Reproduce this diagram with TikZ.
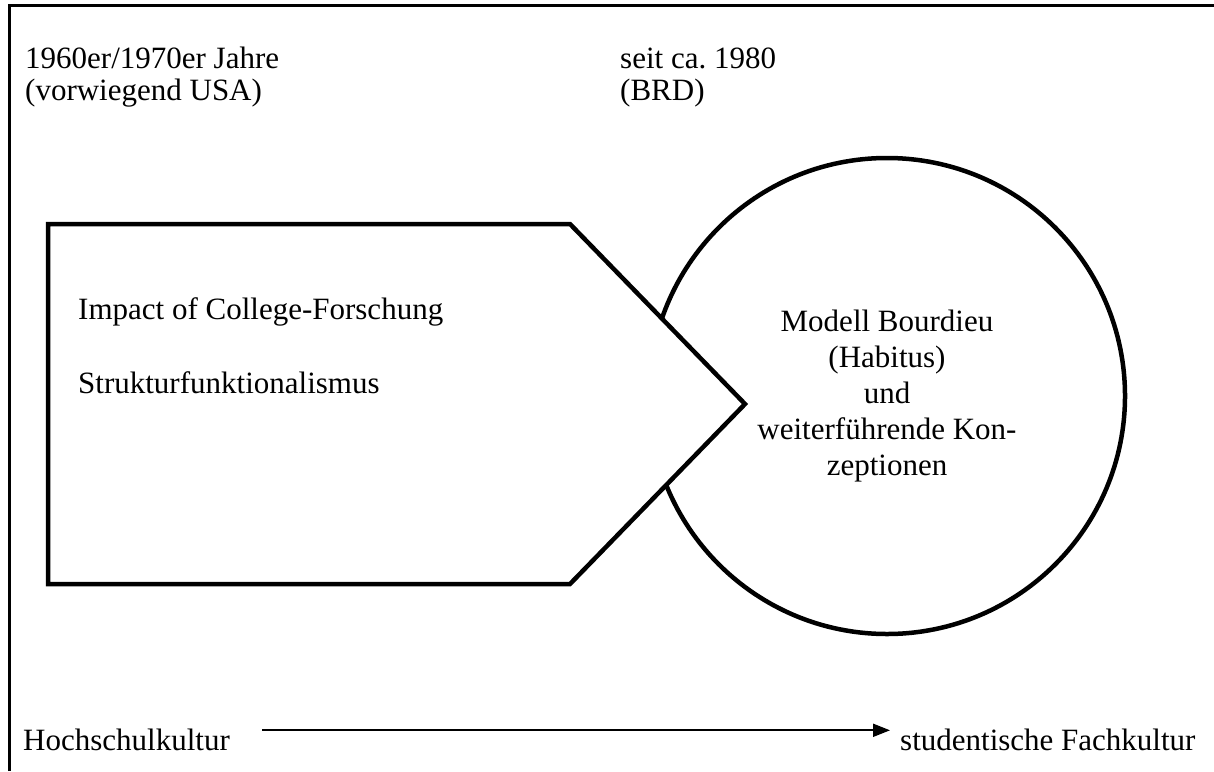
\documentclass[tikz,border=0pt]{standalone}
\usepackage{fontspec}
\setmainfont{Liberation Serif}
\usetikzlibrary{arrows.meta}
\begin{document}
\frenchspacing
\begin{tikzpicture}[x=1pt,y=-1pt,
  txt/.style={inner sep=0pt,anchor=base west,font=\fontsize{31}{36}\selectfont},
  frameline/.style={line width=3pt},
  shapeline/.style={line width=4.5pt,line join=miter},
  arrowline/.style={line width=2pt,-{Triangle[length=17pt,width=13pt]}}]
\useasboundingbox (0,0) rectangle (1214,771);

% open frame: left and top edges only
\draw[frameline] (9,771) -- (9,5) -- (1214,5);

% period headings
\node[txt] (eraA) at (25,68) {1960er/1970er Jahre};
\node[txt] (eraAsub) at (25,100) {(vorwiegend USA)};
\node[txt] (eraB) at (620,68) {seit ca.\ 1980};
\node[txt] (eraBsub) at (620,100) {(BRD)};

% circle with the Bourdieu model
\node[circle,draw,shapeline,minimum size=476pt,inner sep=0pt,align=center,
      font=\fontsize{31}{36}\selectfont] (bourdieu) at (887,396)
  {Modell Bourdieu\\(Habitus)\\und\\weiterführende Kon-\\zeptionen};

% arrow-shaped block pushing into the circle
\draw[shapeline,fill=white] (48,224) -- (570,224) -- (745,404) -- (570,584) -- (48,584) -- cycle;
\node[txt] (impact) at (78,319) {Impact of College-Forschung};
\node[txt] (struktur) at (78,393) {Strukturfunktionalismus};

% bottom axis
\node[txt] (hs) at (23,750) {Hochschulkultur};
\node[txt] (sf) at (900,750) {studentische Fachkultur};
\draw[arrowline] ([xshift=32pt,yshift=-2pt]hs.north east) -- ([xshift=-10pt,yshift=-2pt]hs.north east -| sf.west);
\end{tikzpicture}
\end{document}
